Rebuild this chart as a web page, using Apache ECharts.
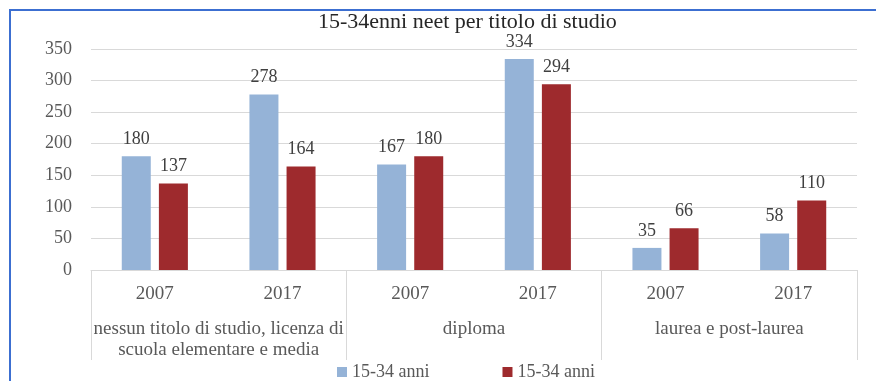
<!DOCTYPE html>
<html>
<head>
<meta charset="utf-8">
<script src="https://cdn.jsdelivr.net/npm/echarts@6/dist/echarts.min.js"></script>
<style>
  html, body { margin: 0; padding: 0; background: #ffffff; }
  #chart { width: 876px; height: 381px; }
</style>
</head>
<body>
<div id="chart"></div>
<script>
// NEET aged 15-34 (thousands) by education level, 2007 vs 2017
const chartTitle = '15-34enni neet per titolo di studio';
const groups = ['nessun titolo di studio, licenza di\nscuola elementare e media', 'diploma', 'laurea e post-laurea'];
const years = ['2007', '2017', '2007', '2017', '2007', '2017'];
const seriesLabels = ['15-34 anni', '15-34 anni '];
const blueValues = [180, 278, 167, 334, 35, 58];
const redValues = [137, 164, 180, 294, 66, 110];
const yTicks = { min: 0, max: 350, interval: 50 };

const FONT = 'Liberation Serif';
const chart = echarts.init(document.getElementById('chart'), null, { renderer: 'canvas' });

const valueLabel = {
  show: true,
  position: 'top',
  distance: 8,
  color: '#404040',
  fontFamily: FONT,
  fontSize: 18
};

chart.setOption({
  animation: false,
  backgroundColor: '#ffffff',
  title: {
    text: chartTitle,
    left: 318,
    top: 11,
    padding: 0,
    textStyle: { fontFamily: FONT, fontSize: 22, fontWeight: 'normal', color: '#262626' }
  },
  graphic: [{
    type: 'rect',
    shape: { x: 10, y: 10, width: 900, height: 420 },
    style: { fill: 'none', stroke: '#3c6fd1', lineWidth: 2 },
    silent: true,
    z: 100
  }],
  legend: {
    data: seriesLabels,
    top: 363,
    left: 337,
    padding: 0,
    itemWidth: 10,
    itemHeight: 10,
    itemGap: 73,
    icon: 'rect',
    formatter: name => name.trim(),
    textStyle: { fontFamily: FONT, fontSize: 18, color: '#595959' }
  },
  grid: { left: 91, right: 19, top: 49, bottom: 111 },
  xAxis: [
    {
      type: 'category',
      data: years,
      position: 'bottom',
      axisLine: { show: true, lineStyle: { color: '#d9d9d9' } },
      axisTick: { show: false },
      axisLabel: { interval: 0, margin: 15, fontFamily: FONT, fontSize: 19, color: '#595959' }
    },
    {
      type: 'category',
      data: groups,
      position: 'bottom',
      axisLine: { show: false },
      axisTick: { show: true, length: 90, interval: 0, lineStyle: { color: '#d9d9d9' } },
      axisLabel: { interval: 0, margin: 49, lineHeight: 21, fontFamily: FONT, fontSize: 19, color: '#595959' },
      splitLine: { show: false }
    }
  ],
  yAxis: {
    type: 'value',
    min: yTicks.min,
    max: yTicks.max,
    interval: yTicks.interval,
    axisLine: { show: false },
    axisTick: { show: false },
    axisLabel: { margin: 19, fontFamily: FONT, fontSize: 18, color: '#595959' },
    splitLine: { lineStyle: { color: '#d9d9d9' } }
  },
  series: [
    {
      name: seriesLabels[0],
      type: 'bar',
      xAxisIndex: 0,
      data: blueValues,
      barWidth: 29,
      barGap: '28%',
      itemStyle: { color: '#95b3d7' },
      label: valueLabel
    },
    {
      name: seriesLabels[1],
      type: 'bar',
      xAxisIndex: 0,
      data: redValues,
      barWidth: 29,
      itemStyle: { color: '#9e2a2d' },
      label: valueLabel
    }
  ]
});
</script>
</body>
</html>
